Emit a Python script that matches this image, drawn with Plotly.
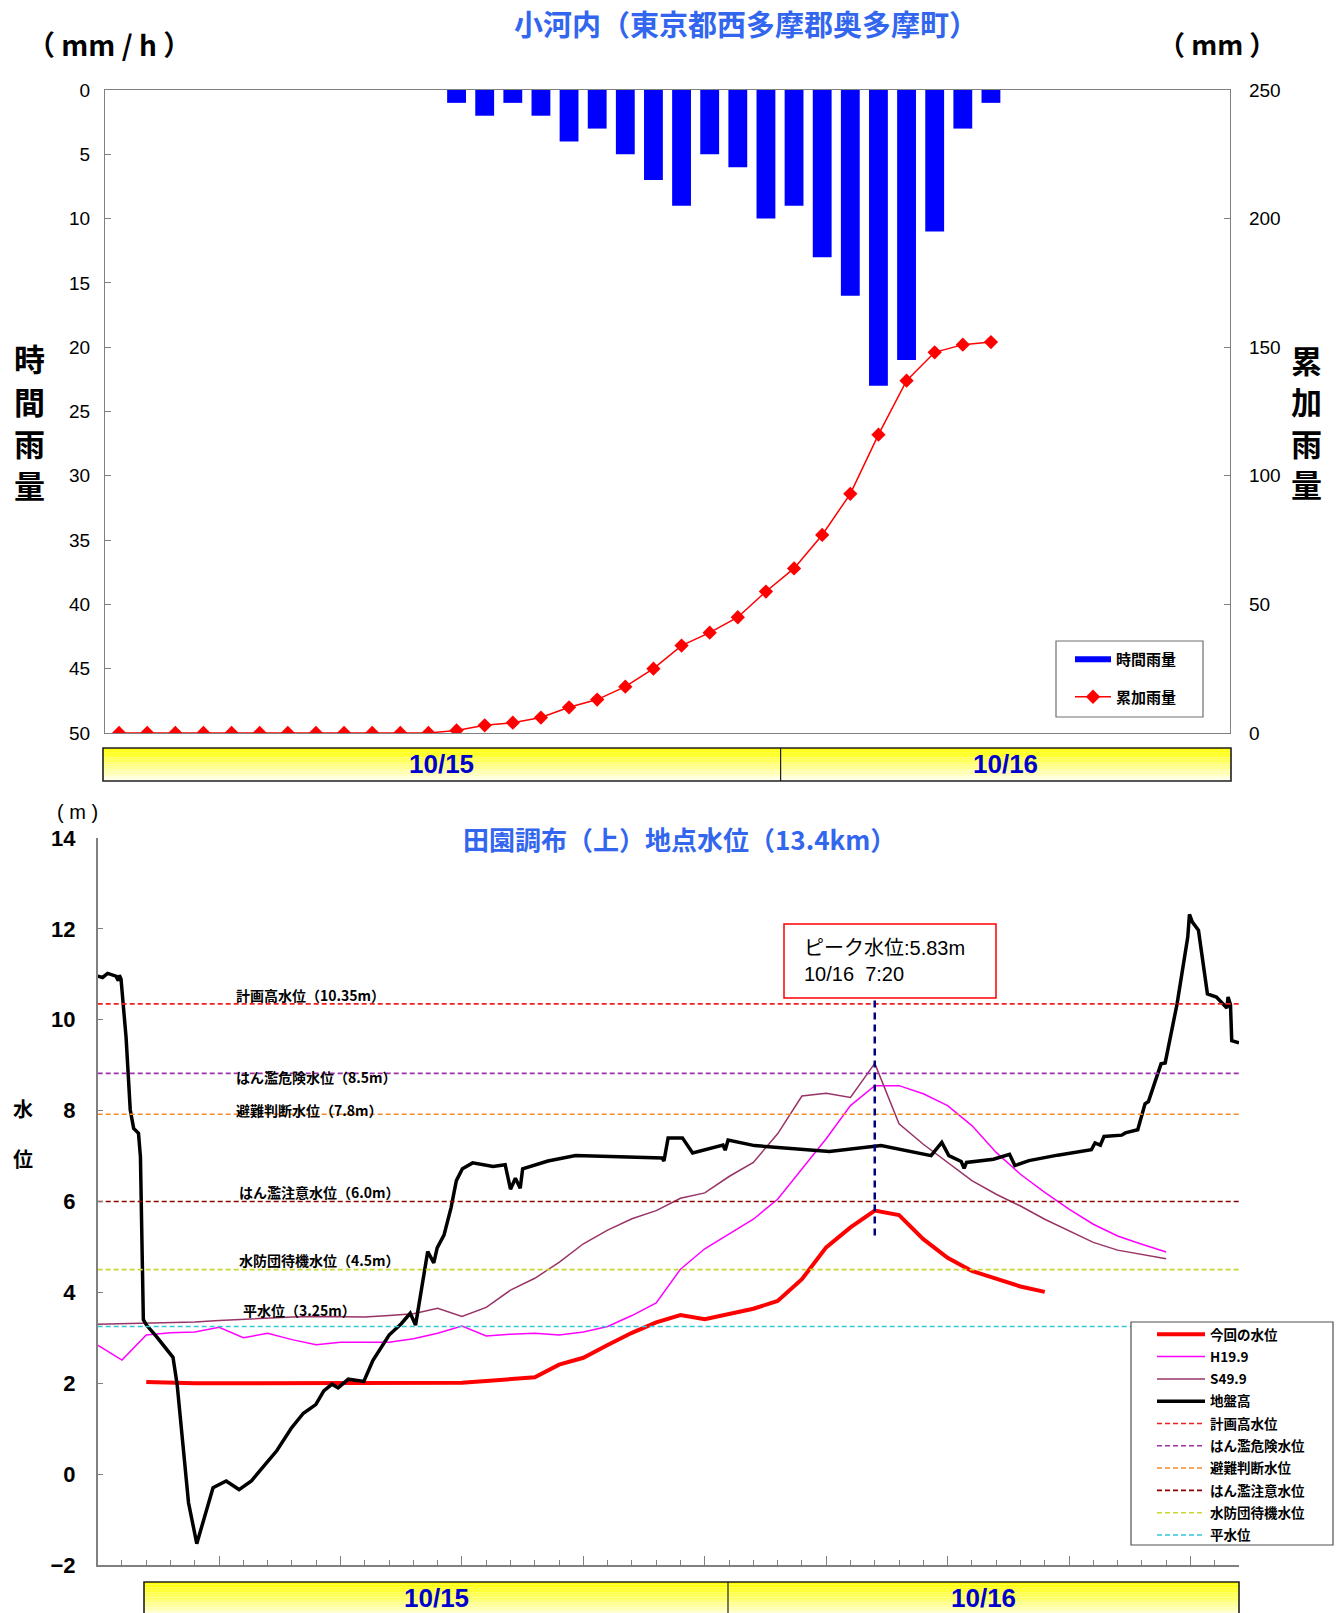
import plotly.graph_objects as go

# ---- 上段: 小河内 雨量 (10/15 1:00 から 1時間ごと) ----
rain_hours = list(range(1, 33))
hourly_rain = [0, 0, 0, 0, 0, 0, 0, 0, 0, 0, 0, 0,
               1, 2, 1, 2, 4, 3, 5, 7, 9, 5, 6, 10, 9, 13, 16, 23, 21, 11, 3, 1]
cumulative_rain = [0, 0, 0, 0, 0, 0, 0, 0, 0, 0, 0, 0,
                   1, 3, 4, 6, 10, 13, 18, 25, 34, 39, 45, 55, 64, 77, 93, 116, 137, 148, 151, 152]

# ---- 下段: 田園調布(上) 水位 (時刻は 10/15 0:00 からの時間) ----
now_hours = list(range(0, 38))
now_level = [2.03, 2.01, 2.0, 2.0, 2.0, 2.0, 2.0, 2.0, 2.0, 2.0, 2.0, 2.0, 2.0,
             2.01, 2.05, 2.08, 2.13, 2.41, 2.56, 2.84, 3.11, 3.34, 3.5, 3.41, 3.53,
             3.64, 3.81, 4.29, 4.99, 5.43, 5.8, 5.7, 5.17, 4.76, 4.47, 4.29, 4.13, 4.01]

past_hours = list(range(-2, 43))
h19_level = [2.84, 2.51, 3.06, 3.11, 3.13, 3.23, 3.0, 3.1, 2.96, 2.85, 2.9, 2.9, 2.9,
             2.98, 3.1, 3.26, 3.04, 3.08, 3.1, 3.06, 3.13, 3.25, 3.49, 3.77, 4.51,
             4.96, 5.28, 5.61, 6.05, 6.71, 7.38, 8.11, 8.55, 8.55, 8.37, 8.11, 7.67,
             7.08, 6.6, 6.2, 5.83, 5.5, 5.24, 5.06, 4.89]
s49_level = [3.3, 3.31, 3.32, 3.33, 3.35, 3.38, 3.41, 3.44, 3.46, 3.47, 3.47, 3.46, 3.49,
             3.53, 3.65, 3.47, 3.67, 4.05, 4.31, 4.66, 5.07, 5.37, 5.62, 5.8, 6.07,
             6.19, 6.55, 6.86, 7.49, 8.32, 8.38, 8.29, 9.04, 7.71, 7.26, 6.86, 6.46,
             6.16, 5.9, 5.61, 5.35, 5.1, 4.93, 4.84, 4.74]

ground_hours = [-2, -1.8, -1.59, -1.25, -1.15, -1.11, -1.04, -0.83, -0.66, -0.52, -0.32,
                -0.24, -0.12, 0.01, 0.43, 1.1, 1.27, 1.52, 1.74, 2.08, 2.36, 2.75, 3.29,
                3.82, 4.33, 4.8, 5.38, 5.97, 6.47, 6.98, 7.31, 7.65, 7.9, 8.32, 8.96, 9.33,
                10.0, 10.5, 10.87, 11.09, 11.37, 11.59, 11.84, 11.98, 12.26, 12.55, 12.77,
                13.02, 13.44, 14.28, 14.78, 15.0, 15.2, 15.4, 15.5, 16.54, 17.68, 19.56,
                21.24, 21.32, 21.49, 22.08, 22.5, 23.75, 23.84, 23.96, 25.05, 28.13, 30.26,
                32.32, 32.76, 33.05, 33.56, 33.68, 33.78, 34.89, 35.55, 35.77, 36.35, 37.53,
                38.92, 39.07, 39.29, 39.44, 40.17, 40.32, 40.83, 41.13, 41.27, 41.79, 41.96,
                42.45, 42.89, 42.96, 43.08, 43.33, 43.7, 44.07, 44.36, 44.5, 44.55, 44.65,
                44.7, 45.0]
ground_level = [10.96, 10.93, 11.02, 10.96, 10.86, 10.98, 10.9, 9.6, 8.02, 7.61, 7.5,
                6.98, 3.4, 3.28, 3.02, 2.57, 1.98, 0.63, -0.63, -1.53, -1.01, -0.3, -0.15,
                -0.34, -0.15, 0.15, 0.52, 1.01, 1.34, 1.53, 1.83, 1.98, 1.9, 2.09, 2.04, 2.5,
                3.06, 3.31, 3.54, 3.28, 4.14, 4.9, 4.65, 4.98, 5.26, 5.86, 6.46,
                6.72, 6.85, 6.77, 6.81, 6.27, 6.51, 6.29, 6.72, 6.89, 7.01, 6.99,
                6.96, 6.89, 7.4, 7.4, 7.07, 7.24, 7.13, 7.35, 7.23, 7.1, 7.23,
                7.01, 7.3, 7.01, 6.88, 6.73, 6.86, 6.93, 7.04, 6.79, 6.9, 7.02,
                7.14, 7.29, 7.24, 7.43, 7.46, 7.51, 7.58, 8.15, 8.2, 9.03, 9.05,
                10.35, 11.82, 12.32, 12.15, 11.97, 10.57, 10.5, 10.35, 10.26, 10.5, 10.33,
                9.54, 9.49]

threshold_names = ["計画高水位", "はん濫危険水位", "避難判断水位", "はん濫注意水位", "水防団待機水位", "平水位"]
threshold_labels = ["計画高水位（10.35m）", "はん濫危険水位（8.5m）", "避難判断水位（7.8m）",
                    "はん濫注意水位（6.0m）", "水防団待機水位（4.5m）", "平水位（3.25m）"]
threshold_levels = [10.35, 8.82, 7.92, 6.0, 4.5, 3.25]
threshold_colors = ["#F01E1E", "#9B30A8", "#F28C28", "#8B0000", "#C8D832", "#33C8DC"]

peak_hour = 30.0
peak_text = "ピーク水位:5.83m<br>10/16  7:20"
date_labels = ["10/15", "10/16"]

# ---- page geometry (page pixels -> paper) ----
W, H = 1337, 1613


def px(x):
    return x / W


def py(y):
    return 1 - y / H


JP = "Noto Sans CJK JP"
AR = "Liberation Sans, Arial"
fig = go.Figure()

# 上段
fig.add_trace(go.Bar(x=rain_hours, y=hourly_rain, marker_color="#0000FF", marker_line_width=0,
                     name="時間雨量", showlegend=False, xaxis="x", yaxis="y"))
fig.add_trace(go.Scatter(x=[None], y=[None], mode="lines", line=dict(color="#0000FF", width=6),
                         name="時間雨量", legend="legend", legendgroup="a", xaxis="x", yaxis="y"))
fig.add_trace(go.Scatter(x=rain_hours, y=cumulative_rain, mode="lines+markers", name="累加雨量",
                         line=dict(color="#FF0000", width=1.5),
                         marker=dict(symbol="diamond", size=11, color="#FF0000"),
                         legend="legend", legendgroup="b", xaxis="x", yaxis="y2"))

# 下段
fig.add_trace(go.Scatter(x=now_hours, y=now_level, mode="lines", name="今回の水位",
                         line=dict(color="#FF0000", width=4), legend="legend2", legendgroup="g1",
                         xaxis="x2", yaxis="y3"))
fig.add_trace(go.Scatter(x=past_hours, y=h19_level, mode="lines", name="H19.9",
                         line=dict(color="#FF00FF", width=1.5), legend="legend2", legendgroup="g2",
                         xaxis="x2", yaxis="y3"))
fig.add_trace(go.Scatter(x=past_hours, y=s49_level, mode="lines", name="S49.9",
                         line=dict(color="#993366", width=1.5), legend="legend2", legendgroup="g3",
                         xaxis="x2", yaxis="y3"))
fig.add_trace(go.Scatter(x=ground_hours, y=ground_level, mode="lines", name="地盤高",
                         line=dict(color="#000000", width=3.5), legend="legend2", legendgroup="g4",
                         xaxis="x2", yaxis="y3"))

x2_range = [-2, 45]
for i, (nm, lv, col) in enumerate(zip(threshold_names, threshold_levels, threshold_colors)):
    fig.add_trace(go.Scatter(x=x2_range, y=[lv, lv], mode="lines", name=nm,
                             line=dict(color=col, width=1.6, dash="5px,3px"),
                             legend="legend2", legendgroup="t%d" % i, xaxis="x2", yaxis="y3"))

annotations = []
label_y = [10.54, 8.73, 8.01, 6.2, 4.71, 3.62]
label_x = [3.6, 3.6, 3.6, 3.72, 3.72, 3.9]
for txt, lx, ly in zip(threshold_labels, label_x, label_y):
    annotations.append(dict(x=lx, y=ly, xref="x2", yref="y3", text=txt, showarrow=False,
                            xanchor="left", yanchor="middle",
                            font=dict(family=JP, size=14, color="#000000", weight="bold")))


def label(x, y, text, size, color="#000000", family=JP, bold=True, **kw):
    d = dict(x=px(x), y=py(y), xref="paper", yref="paper", text=text, showarrow=False,
             xanchor="center", yanchor="middle",
             font=dict(family=family, size=size, color=color, weight="bold" if bold else "normal"))
    d.update(kw)
    annotations.append(d)


label(746, 23, "小河内（東京都西多摩郡奥多摩町）", 29, "#3366EE")
label(109, 44, "（ mm / h ）", 28)
label(1217, 44, "（ mm ）", 27)
# 縦書きの軸名 (1文字ずつ)
for ch, yy in zip("時間雨量", [358, 401, 443, 485]):
    label(29, yy, ch, 31)
for ch, yy in zip("累加雨量", [360, 401, 443, 484]):
    label(1306, yy, ch, 31)
label(679, 838, "田園調布（上）地点水位（13.4km）", 26, "#3366EE")
label(77, 812, "( m )", 20, family=AR, bold=False)
label(23, 1108, "水", 20)
label(23, 1158, "位", 20)
label(802, 961, peak_text, 20, family="Liberation Sans, " + JP, bold=False,
      xanchor="left", align="left")

shapes = []


def date_bar(x0, x1, y0, y1, xmid):
    n = 14
    for k in range(n):
        t = k / (n - 1)
        b = int(0 + 235 * t)
        shapes.append(dict(type="rect", xref="paper", yref="paper", layer="above",
                           x0=px(x0), x1=px(x1),
                           y0=py(y0 + (y1 - y0) * k / n), y1=py(y0 + (y1 - y0) * (k + 1) / n),
                           line_width=0, fillcolor="rgb(255,255,%d)" % b))
    shapes.append(dict(type="rect", xref="paper", yref="paper", x0=px(x0), x1=px(x1),
                       y0=py(y0), y1=py(y1), line=dict(color="#202020", width=1.6)))
    shapes.append(dict(type="line", xref="paper", yref="paper", x0=px(xmid), x1=px(xmid),
                       y0=py(y0), y1=py(y1), line=dict(color="#202020", width=1.2)))
    for lab, cx in zip(date_labels, [(x0 + xmid) / 2, (xmid + x1) / 2]):
        label(cx, y0 + 16, lab, 26, "#0000CC", family=AR)


date_bar(103, 1231, 748, 781, 780.6)
date_bar(144, 1239, 1582, 1618, 728)

# 凡例の枠
shapes.append(dict(type="rect", xref="paper", yref="paper", x0=px(1056), x1=px(1203),
                   y0=py(717), y1=py(641), line=dict(color="#707070", width=1.2),
                   fillcolor="white", layer="below"))
shapes.append(dict(type="rect", xref="paper", yref="paper", x0=px(1131), x1=px(1333),
                   y0=py(1545), y1=py(1322), line=dict(color="#505050", width=1.2),
                   fillcolor="white", layer="above"))
# ピーク
shapes.append(dict(type="rect", xref="paper", yref="paper", x0=px(784), x1=px(996),
                   y0=py(998), y1=py(924), line=dict(color="#FF0000", width=1.5),
                   fillcolor="white"))
shapes.append(dict(type="line", xref="x2", yref="y3", x0=peak_hour, x1=peak_hour, y0=5.25, y1=10.45,
                   line=dict(color="#000080", width=2.5, dash="7px,5px")))

axis_line = "#808080"
fig.update_layout(
    width=W, height=H, margin=dict(l=0, r=0, t=0, b=0, autoexpand=False),
    paper_bgcolor="white", plot_bgcolor="rgba(0,0,0,0)",
    bargap=0.33, showlegend=True,
    xaxis=dict(domain=[px(105), px(1230)], range=[0.5, 40.5], anchor="y", showticklabels=False,
               showline=True, linecolor=axis_line, linewidth=1.2, mirror=True, ticks="",
               showgrid=False, zeroline=False),
    yaxis=dict(domain=[py(733), py(90)], range=[50, 0], dtick=5, anchor="x", ticks="inside",
               ticklen=6, tickcolor=axis_line, showline=True, linecolor=axis_line, linewidth=1.2,
               showgrid=False, zeroline=False, ticklabelstandoff=10,
               tickfont=dict(family=AR, size=19, color="#000000")),
    yaxis2=dict(overlaying="y", side="right", range=[0, 250], dtick=50, anchor="x",
                ticks="inside", ticklen=6, tickcolor=axis_line, showline=True, linecolor=axis_line,
                linewidth=1.2, showgrid=False, zeroline=False, ticklabelstandoff=14,
                tickfont=dict(family=AR, size=19, color="#000000")),
    xaxis2=dict(domain=[px(97.7), px(1239)], range=x2_range, anchor="y3", showticklabels=False,
                showline=True, linecolor=axis_line, linewidth=1.5, ticks="inside", tick0=-2,
                dtick=5, ticklen=9, tickcolor=axis_line,
                minor=dict(dtick=1, ticks="inside", ticklen=5, tickcolor=axis_line, showgrid=False),
                showgrid=False, zeroline=False),
    yaxis3=dict(domain=[py(1565), py(838)], range=[-2, 14], dtick=2, anchor="x2",
                ticks="inside", ticklen=6, tickcolor=axis_line, showline=True, linecolor=axis_line,
                linewidth=1.5, showgrid=False, zeroline=False, ticklabelstandoff=16,
                tickfont=dict(family=AR, size=22, color="#000000", weight="bold")),
    legend=dict(x=px(1070), y=py(643), xanchor="left", yanchor="top", bgcolor="rgba(0,0,0,0)",
                borderwidth=0, itemwidth=36, tracegroupgap=15, traceorder="grouped",
                font=dict(family=JP, size=15, color="#000000", weight="bold")),
    legend2=dict(x=px(1152), y=py(1319), xanchor="left", yanchor="top", bgcolor="rgba(0,0,0,0)",
                 borderwidth=0, itemwidth=48, tracegroupgap=1.75, traceorder="grouped",
                 font=dict(family=JP, size=13.5, color="#000000", weight="bold")),
    annotations=annotations,
    shapes=shapes,
)

# ページの余白をなくして図をウィンドウいっぱいに置く
fig.write_html("out.html", config={"displayModeBar": False},
               post_script="document.body.style.margin='0';")
